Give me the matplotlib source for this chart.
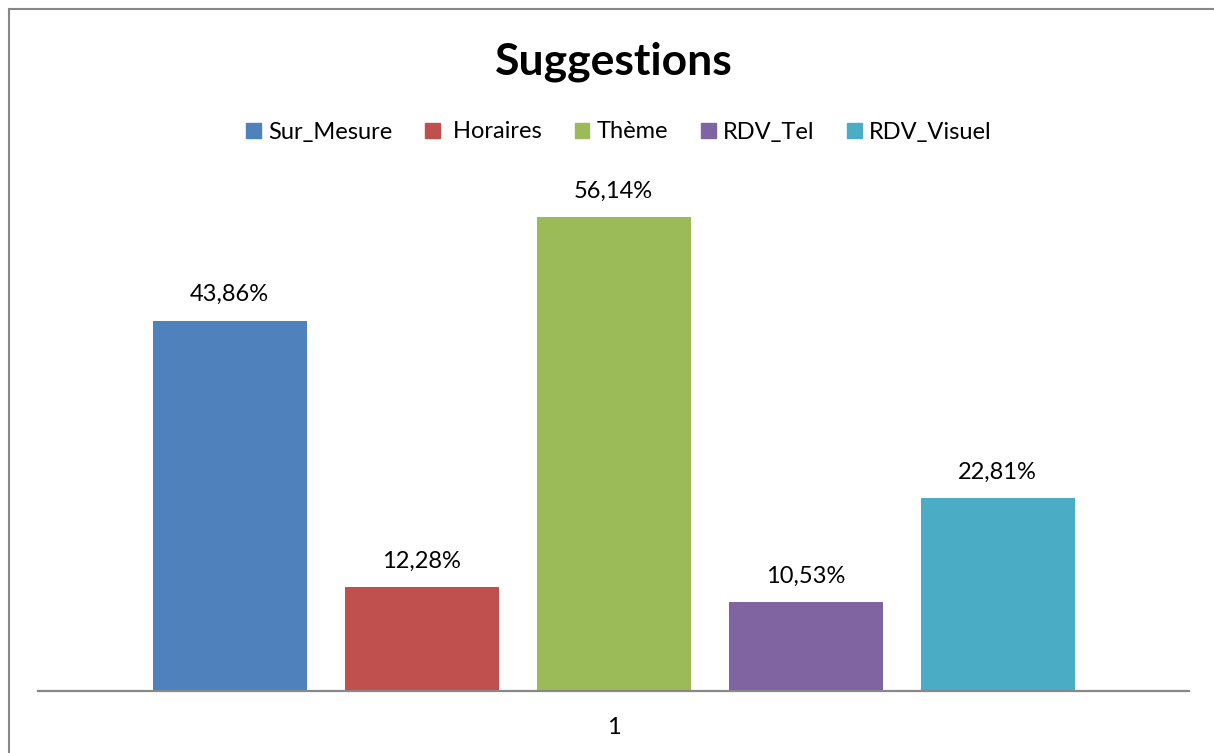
import matplotlib
matplotlib.use("Agg")
import matplotlib.pyplot as plt
from matplotlib.lines import Line2D
from matplotlib.patches import Patch

# ---- data ----
series = ["Sur_Mesure", " Horaires", "Thème", "RDV_Tel", "RDV_Visuel"]
values = [43.86, 12.28, 56.14, 10.53, 22.81]
category_labels = ["1"]
colors = ["#4F81BD", "#C0504D", "#9BBB59", "#8064A2", "#4BACC6"]

plt.rcParams.update({
    "font.family": ["Lato", "DejaVu Sans"],
    "figure.facecolor": "1.00",
})

W, H = 1214, 753
fig = plt.figure(figsize=(W / 100, H / 100), dpi=100)

# plot area in pixel terms
left_px, right_px = 38, 1189
base_px, top_px = 691, 184.4
ax = fig.add_axes([left_px / W, 1 - base_px / H,
                   (right_px - left_px) / W, (base_px - top_px) / H])

span = right_px - left_px
step = 192 / span
width = 154 / span
n = len(series)
for i, (name, v, c) in enumerate(zip(series, values, colors)):
    x = (i - (n - 1) / 2) * step
    ax.bar(x, v, width=width, color=c, label=name, zorder=2)
    ax.annotate(f"{v:.2f}%".replace(".", ","), (x, v), xytext=(0, 14),
                textcoords="offset points", ha="center", va="baseline",
                fontsize=17, color="black")

ax.set_xlim(-0.5, 0.5)
ax.set_ylim(0, 60)
ax.set_xticks([0])
ax.set_xticklabels(category_labels, fontsize=17)
ax.tick_params(axis="x", length=0, pad=19)
ax.set_yticks([])
for s in ["top", "right", "left"]:
    ax.spines[s].set_visible(False)
ax.spines["bottom"].set_color("#888888")
ax.spines["bottom"].set_linewidth(1.6)
ax.set_facecolor("none")

# title and legend
fig.text(614 / W, 1 - 74 / H, "Suggestions", ha="center", va="baseline",
         fontsize=32, fontweight="bold")
handles = [Patch(facecolor=c, edgecolor=c, label=s) for s, c in zip(series, colors)]
fig.legend(handles=handles, loc="center", bbox_to_anchor=(619 / W, 1 - 132 / H),
           ncol=5, frameon=False, fontsize=17, handlelength=0.62,
           handleheight=0.62, handletextpad=0.3, columnspacing=1.4)

# chart frame (partly outside the image)
fx = 8.5 / W
fy = 1 - 8.5 / H
fig.add_artist(Line2D([fx, fx], [0, fy], transform=fig.transFigure,
                      color="#878787", lw=1.5))
fig.add_artist(Line2D([fx, 1], [fy, fy], transform=fig.transFigure,
                      color="#878787", lw=1.5))

fig.savefig("out.png", dpi=100)
